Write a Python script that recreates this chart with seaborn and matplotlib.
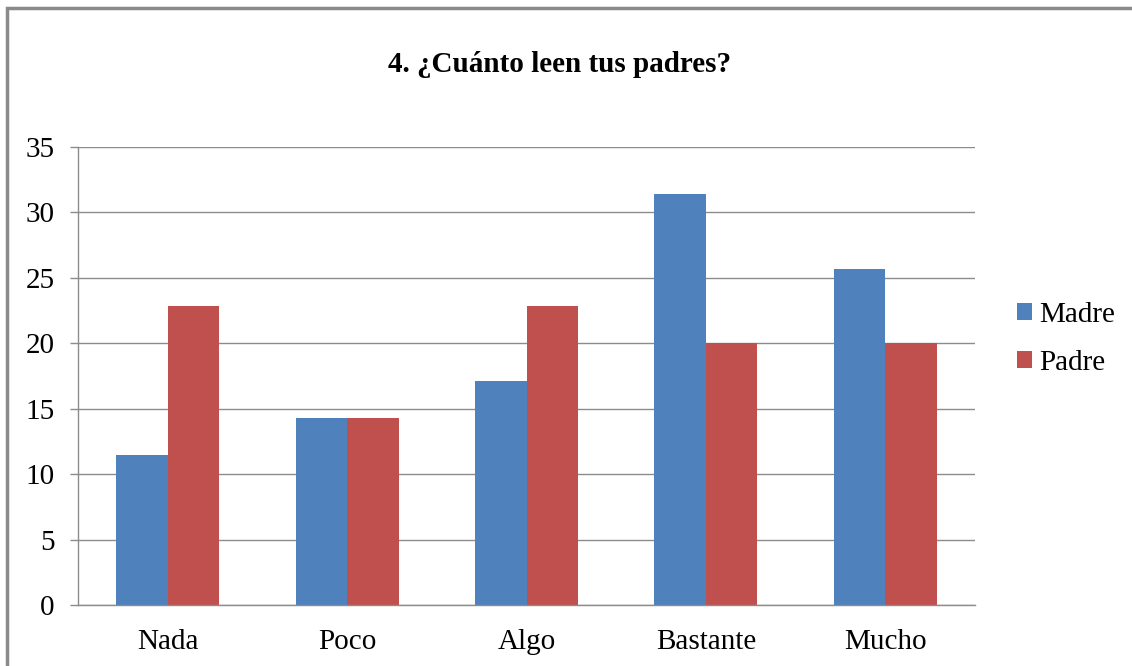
import numpy as np
import pandas as pd
import matplotlib
matplotlib.use('Agg')
import matplotlib.pyplot as plt
import seaborn as sns
from matplotlib.patches import Rectangle

categorias = ['Nada', 'Poco', 'Algo', 'Bastante', 'Mucho']
madre = [11.43, 14.29, 17.14, 31.43, 25.71]
padre = [22.86, 14.29, 22.86, 20.0, 20.0]
series = ['Madre', 'Padre']
colores = ['#4F81BD', '#C0504D']
titulo = '4. ¿Cuánto leen tus padres?'

df = pd.DataFrame({
    'categoria': categorias * 2,
    'valor': madre + padre,
    'serie': ['Madre'] * len(categorias) + ['Padre'] * len(categorias),
})

sns.set_style('white', {'text.color': 'black', 'xtick.color': 'black',
                        'ytick.color': 'black'})
plt.rcParams['font.family'] = ['Liberation Serif', 'DejaVu Serif']

fig = plt.figure(figsize=(11.32, 6.66), dpi=100)
ax = fig.add_axes([78 / 1132, 61 / 666, 897 / 1132, 458 / 666])

sns.barplot(data=df, x='categoria', y='valor', hue='serie', order=categorias,
            hue_order=series, palette=colores, width=0.575, saturation=1,
            linewidth=0, ax=ax)

# gray frame around the chart (cut at right/bottom like the original)
fig.patches.append(Rectangle((7 / 1132, -0.1), 1.2, 658 / 666 + 0.1,
                             transform=fig.transFigure, fill=False,
                             edgecolor='#8a8a8a', linewidth=2.5, zorder=0))

ax.set_ylim(0, 35)
ax.set_xlim(-0.5, len(categorias) - 0.5)
ax.set_yticks(np.arange(0, 36, 5))
ax.yaxis.grid(True, color='#8c8c8c', linewidth=1)
ax.set_axisbelow(True)
for s in ['top', 'right']:
    ax.spines[s].set_visible(False)
for s in ['left', 'bottom']:
    ax.spines[s].set_color('#8c8c8c')
    ax.spines[s].set_linewidth(1)

ax.set_xticks(np.arange(-0.5, len(categorias)), minor=True)
ax.tick_params(axis='x', which='major', length=0, pad=17, labelsize=21,
               labelcolor='black')
ax.tick_params(axis='x', which='minor', length=7, color='#8c8c8c', width=1, direction='out')
ax.tick_params(axis='y', length=6, color='#8c8c8c', width=1, direction='out',
               pad=11, labelsize=21, left=True, labelcolor='black')
ax.set_xlabel('')
ax.set_ylabel('')

leg = ax.legend(loc='center left', bbox_to_anchor=(1017 / 1132, 1 - 339 / 666),
                bbox_transform=fig.transFigure, frameon=False, borderpad=0,
                borderaxespad=0, fontsize=21, handlelength=0.5, handleheight=0.5,
                handletextpad=0.25, labelspacing=0.75)
for t in leg.get_texts():
    t.set_color('black')

fig.text(560 / 1132, 1 - 65 / 666, titulo, ha='center', va='center',
         fontsize=21, fontweight='bold', color='black')

plt.savefig('out.png', dpi=100)
